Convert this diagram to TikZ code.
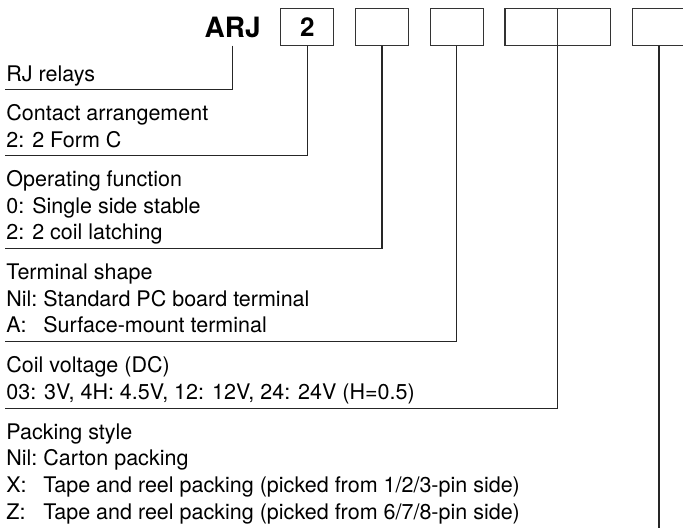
\documentclass[tikz,border=0pt]{standalone}
\usepackage{fontspec}
\setmainfont{TeX Gyre Heros}
\usetikzlibrary{positioning}
\tikzset{
  codeBox/.style={
    rectangle,
    draw=black!80,
    line width=0.6pt,
    minimum width=26.45pt,
    minimum height=18.7pt,
    inner sep=0pt,
    outer sep=0pt,
    font=\fontsize{13}{15}\selectfont\bfseries
  },
  itemText/.style={
    anchor=base west,
    inner sep=0pt,
    font=\fontsize{10.75}{13.3}\selectfont
  },
  leaderLine/.style={
    draw=black!85,
    line width=0.6pt
  }
}
\newcommand{\codeKey}[1]{\makebox[1.72em][l]{#1}}

\begin{document}
\begin{tikzpicture}[x=0.5pt,y=-0.5pt]
        \useasboundingbox (0,0) rectangle (683,527);
        \clip (0,0) rectangle (683,527);

        % part number boxes
        \node[codeBox, draw=none, font=\fontsize{14}{16}\selectfont\bfseries] (arj) at (232.7,27) {ARJ};
        \node[codeBox] (contact) at (307.3,27) {2};
        \node[codeBox, right=10.9pt of contact] (function) {};
        \node[codeBox, right=10.9pt of function] (terminal) {};
        \node[codeBox, right=10.9pt of terminal] (voltA) {};
        \node[codeBox, right=0pt of voltA] (voltB) {};
        \node[codeBox, right=10.9pt of voltB] (packing) {};

        % descriptions
        \node[itemText] (rjText) at (6,81) {RJ relays};
        \node[itemText] (contactHead) at (6,120.3) {Contact arrangement};
        \node[itemText] (contactOpt) at (6,147) {2: 2 Form C};
        \node[itemText] (functionHead) at (6,186.5) {Operating function};
        \node[itemText] (functionOptA) at (6,213.1) {0: Single side stable};
        \node[itemText] (functionOptB) at (6,239.7) {2: 2 coil latching};
        \node[itemText] (terminalHead) at (6,279.5) {Terminal shape};
        \node[itemText] (terminalOptA) at (6,306.1) {\codeKey{Nil:}Standard PC board terminal};
        \node[itemText] (terminalOptB) at (6,332.7) {\codeKey{A:}Surface-mount terminal};
        \node[itemText] (voltHead) at (6,372.5) {Coil voltage (DC)};
        \node[itemText] (voltOpt) at (6,399.1) {03: 3V, 4H: 4.5V, 12: 12V, 24: 24V (H=0.5)};
        \node[itemText] (packHead) at (6,439.3) {Packing style};
        \node[itemText] (packOptA) at (6,465.9) {\codeKey{Nil:}Carton packing};
        \node[itemText] (packOptX) at (6,492.5) {\codeKey{X:}Tape and reel packing (picked from 1/2/3-pin side)};
        \node[itemText] (packOptZ) at (6,519.1) {\codeKey{Z:}Tape and reel packing (picked from 6/7/8-pin side)};

        % leader lines
        \coordinate (rjEnd) at (5,89.3);
        \coordinate (contactEnd) at (5,155.7);
        \coordinate (functionEnd) at (5,248.7);
        \coordinate (terminalEnd) at (5,341.7);
        \coordinate (voltEnd) at (5,408.3);
        \coordinate (pageBottom) at (0,528);

        \draw[leaderLine] (arj.south) |- (rjEnd);
        \draw[leaderLine] (contact.south) |- (contactEnd);
        \draw[leaderLine] (function.south) |- (functionEnd);
        \draw[leaderLine] (terminal.south) |- (terminalEnd);
        \draw[leaderLine] (voltA.south east) |- (voltEnd);
        \draw[leaderLine] (packing.south) -- (packing.south |- pageBottom);
    \end{tikzpicture}
\end{document}
